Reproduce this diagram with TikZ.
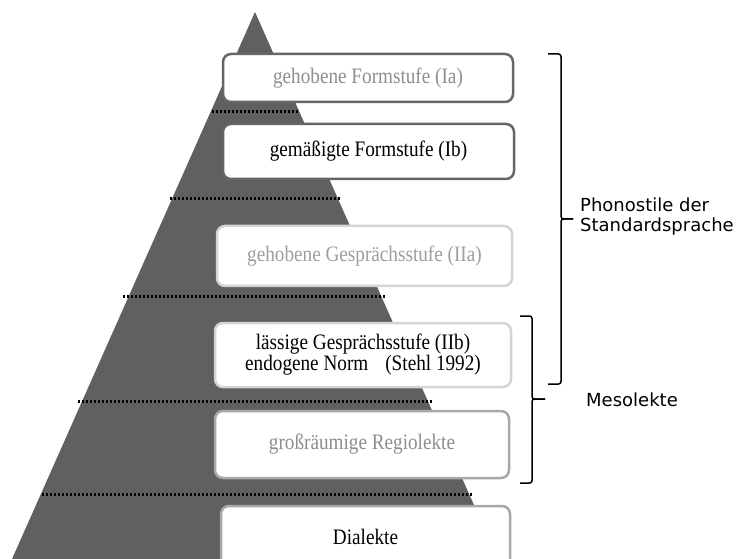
\documentclass[tikz,border=0pt]{standalone}
\usepackage{graphicx}
\usepackage{fontspec}
\setmainfont{Liberation Serif}
\newfontfamily\sansf{DejaVu Sans}
\newcommand{\tallline}[1]{\scalebox{1}[1.15]{#1}}
\definecolor{tri}{HTML}{606060}
\definecolor{bdark}{HTML}{666666}
\definecolor{blight}{HTML}{D4D4D4}
\definecolor{bmid}{HTML}{A8A8A8}
\definecolor{tgray}{HTML}{8E8E8E}
\definecolor{tlight}{HTML}{9E9E9E}
\begin{document}
\begin{tikzpicture}[x=1pt,y=-1pt,
  levelbox/.style={draw, rounded corners=8pt, line width=2.5pt, fill=white, inner sep=0pt,
    align=center, font=\fontsize{19.2}{21}\selectfont},
  dotline/.style={line width=3pt, dash pattern=on 2.4pt off 1.6pt, black},
  bracepath/.style={line width=1.5pt, rounded corners=2.5pt},
  sidelabel/.style={font=\sansf\fontsize{18}{20}\selectfont, inner sep=0pt, align=left}]
\useasboundingbox (0,0) rectangle (740,559);
% pyramid
\fill[tri] (255,12) -- (498,559) -- (12,559) -- cycle;
% dotted separators
\draw[dotline] (212,112) -- (298,112);
\draw[dotline] (170,199) -- (341,199);
\draw[dotline] (123,297) -- (385,297);
\draw[dotline] (78,401) -- (432,401);
\draw[dotline] (42,494) -- (473,494);
% boxes
\node[levelbox, draw=bdark, text=tgray, minimum width=290pt, minimum height=48pt] (ia) at (368,78) {\tallline{gehobene Formstufe (Ia)}};
\node[levelbox, draw=bdark, text=black, minimum width=291pt, minimum height=55pt] (ib) at (368.5,151.5) {\tallline{gemäßigte Formstufe (Ib)}};
\node[levelbox, draw=blight, text=tlight, minimum width=295pt, minimum height=60pt] (iia) at (364.5,256) {\tallline{gehobene Gesprächsstufe (IIa)}};
\node[levelbox, draw=blight, text=black, minimum width=296pt, minimum height=64pt] (iib) at (363,355) {\tallline{lässige Gesprächsstufe (IIb)}\\\tallline{endogene Norm\hspace{17pt}(Stehl 1992)}};
\node[levelbox, draw=bmid, text=tgray, minimum width=294pt, minimum height=67pt] (reg) at (362,444.5) {\tallline{großräumige Regiolekte}};
\node[levelbox, draw=bmid, text=black, minimum width=289pt, minimum height=62pt] (dia) at (365.5,537) {\tallline{Dialekte}};
% braces
\coordinate (b1tip) at (573,219);
\coordinate (b2tip) at (545,399);
\draw[bracepath] (548,54) -| (561,219) -- (b1tip);
\draw[bracepath] (548,384) -| (561,219) -- (b1tip);
\draw[bracepath] (520,316) -| (532,399) -- (b2tip);
\draw[bracepath] (520,483) -| (532,399) -- (b2tip);
% labels
\node[sidelabel, anchor=west] (phono) at (580,217) {Phonostile der\\Standardsprache};
\node[sidelabel, anchor=base west] (meso) at (586,406) {Mesolekte};
\end{tikzpicture}
\end{document}
